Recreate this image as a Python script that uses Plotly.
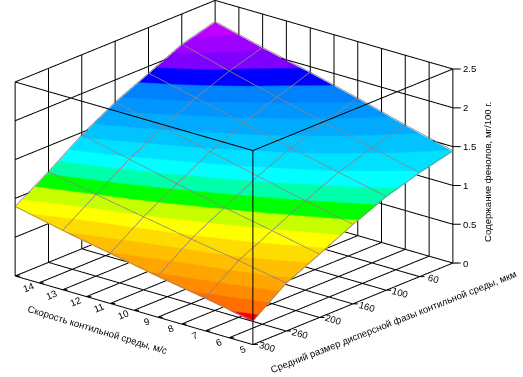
import math
import plotly.graph_objects as go

# ---- data ----
speed_mesh = [4.5, 6.5, 8.5, 10.5, 12.5, 14.5]
size_mesh = [324, 276, 228, 180, 132, 84, 36]
# rows: speed_mesh, columns: size_mesh
z_row_0 = [0.295, 0.606, 0.804, 1.013, 1.196, 1.329, 1.436]
z_row_1 = [0.413, 0.720, 0.930, 1.140, 1.330, 1.470, 1.592]
z_row_2 = [0.518, 0.820, 1.050, 1.280, 1.470, 1.620, 1.762]
z_row_3 = [0.636, 0.930, 1.180, 1.420, 1.610, 1.770, 1.918]
z_row_4 = [0.754, 1.040, 1.320, 1.560, 1.760, 1.930, 2.060]
z_row_5 = [0.885, 1.158, 1.458, 1.705, 1.900, 2.100, 2.218]
z_rows = [z_row_0, z_row_1, z_row_2, z_row_3, z_row_4, z_row_5]
z_by_size = [list(col) for col in zip(*z_rows)]

speed_ticks = [5, 6, 7, 8, 9, 10, 11, 12, 13, 14]
size_ticks = [300, 252, 204, 156, 108, 60]
size_labels = ["300", "260", "200", "160", "100", "60"]
z_ticks = [0, 0.5, 1, 1.5, 2, 2.5]
z_labels = ["0", "0.5", "1", "1.5", "2", "2.5"]
speed_grid = [4.5 + i for i in range(11)]
size_grid = size_mesh

band_colors = ["#ff0000", "#ff6e00", "#ff8c00", "#ffa500", "#ffbe00", "#ffdc00", "#ffff00",
               "#c8ff00", "#00ff00", "#00ffaa", "#00ffff", "#00e1ff", "#00c3ff", "#00aaff",
               "#0096ff", "#0082ff", "#0000ff", "#8000ff", "#a000ff", "#c000ff"]
band_min = 0.25
band_step = 0.1

X0, X1 = speed_grid[0], speed_grid[-1]
Y0, Y1 = size_grid[-1], size_grid[0]
Z0, Z1 = z_ticks[0], z_ticks[-1]

n = len(band_colors)
cscale = []
for i, c in enumerate(band_colors):
    cscale.append([i / n, c])
    cscale.append([(i + 1) / n, c])

fig = go.Figure()
fig.add_trace(go.Surface(
    x=speed_mesh, y=size_mesh, z=z_by_size, surfacecolor=z_by_size,
    colorscale=cscale, cmin=band_min, cmax=band_min + n * band_step, showscale=False,
    lighting=dict(ambient=1, diffuse=0, specular=0, fresnel=0, roughness=1),
    hoverinfo="skip",
))

# mesh wires, lifted a hair above the surface
mx, my, mz = [], [], []
LIFT = 0.012
for i, s in enumerate(speed_mesh):
    for j, d in enumerate(size_mesh):
        mx.append(s); my.append(d); mz.append(z_rows[i][j] + LIFT)
    mx.append(None); my.append(None); mz.append(None)
for j, d in enumerate(size_mesh):
    for i, s in enumerate(speed_mesh):
        mx.append(s); my.append(d); mz.append(z_rows[i][j] + LIFT)
    mx.append(None); my.append(None); mz.append(None)
fig.add_trace(go.Scatter3d(x=mx, y=my, z=mz, mode="lines", line=dict(color="#8c8484", width=1.5),
                           hoverinfo="skip", showlegend=False))

lx, ly, lz = [], [], []
def seg(a, b):
    lx.extend([a[0], b[0], None]); ly.extend([a[1], b[1], None]); lz.extend([a[2], b[2], None])

for x in speed_grid:
    seg((x, Y0, Z0), (x, Y1, Z0))      # floor
    seg((x, Y0, Z0), (x, Y0, Z1))      # back wall
    seg((x, Y1, Z0), (x - 0.123, Y1 - 2.97, Z0))   # stub
for y in size_grid:
    seg((X0, y, Z0), (X1, y, Z0))      # floor
    seg((X1, y, Z0), (X1, y, Z1))      # left wall
    seg((X0, y, Z0), (X0 - 0.123, y - 2.97, Z0))   # stub
for z in z_ticks:
    seg((X0, Y0, z), (X1, Y0, z))
    seg((X1, Y0, z), (X1, Y1, z))
# front box edges
seg((X0, Y1, Z0), (X0, Y1, Z1))
seg((X0, Y1, Z1), (X1, Y1, Z1))
seg((X0, Y1, Z1), (X0, Y0, Z1))
# z tick stubs
for z in z_ticks:
    seg((X0, Y0, z), (X0 - 0.196, Y0 - 4.75, z))
fig.add_trace(go.Scatter3d(x=lx, y=ly, z=lz, mode="lines", line=dict(color="#000000", width=2),
                           hoverinfo="skip", showlegend=False))

font = dict(family="Liberation Sans", size=9.6, color="#000000")
ann = []
for v in speed_ticks:
    ann.append(dict(x=v, y=Y1, z=Z0, text=str(v), showarrow=False, textangle=-22, font=font,
                    xshift=1, yshift=-8))
for v, t in zip(size_ticks, size_labels):
    ann.append(dict(x=X0, y=v, z=Z0, text=t, showarrow=False, textangle=16, font=font,
                    xshift=-3, yshift=-9))
for v, t in zip(z_ticks, z_labels):
    ann.append(dict(x=X0, y=Y0, z=v, text=t, showarrow=False, xanchor="left", font=font,
                    xshift=8, yshift=0))
ann.append(dict(x=9.5, y=Y1, z=Z0, text="Скорость контильной среды, м/с", showarrow=False,
                textangle=17, font=font, xshift=-37, yshift=-19))
ann.append(dict(x=X0, y=180, z=Z0, text="Средний размер дисперсной фазы контильной среды, мкм",
                showarrow=False, textangle=-21.5, font=font, xshift=41, yshift=-18))
ann.append(dict(x=X0, y=Y0, z=1.25, text="Содержание фенолов, мг/100 г.", showarrow=False,
                textangle=-90, font=font, xshift=35, yshift=-6))

az = math.radians(40.07)
el = math.radians(20.07)
R = 2.0
PAD = 0.03
K = 1.801 * (1 + 2 * PAD)
def pad(a, b):
    return [a - PAD * (b - a), b + PAD * (b - a)]
axis = dict(visible=False, showspikes=False)
fig.update_layout(
    width=523, height=377, margin=dict(l=0, r=0, t=0, b=0), paper_bgcolor="white",
    showlegend=False,
    scene=dict(
        domain=dict(x=[0, 0.895], y=[0.085, 1]),
        xaxis=dict(range=pad(X0, X1), **axis),
        yaxis=dict(range=pad(Y0, Y1), **axis),
        zaxis=dict(range=pad(Z0, Z1), **axis),
        aspectmode="manual", aspectratio=dict(x=K, y=K, z=0.665 * K),
        bgcolor="white",
        camera=dict(projection=dict(type="orthographic"),
                    eye=dict(x=-math.sin(az) * math.cos(el) * R,
                             y=math.cos(az) * math.cos(el) * R,
                             z=math.sin(el) * R),
                    center=dict(x=0, y=0, z=0), up=dict(x=0, y=0, z=1)),
        annotations=ann,
    ),
)
fig.write_html("out.html", post_script="document.body.style.margin='0';",
               config=dict(displayModeBar=False))
